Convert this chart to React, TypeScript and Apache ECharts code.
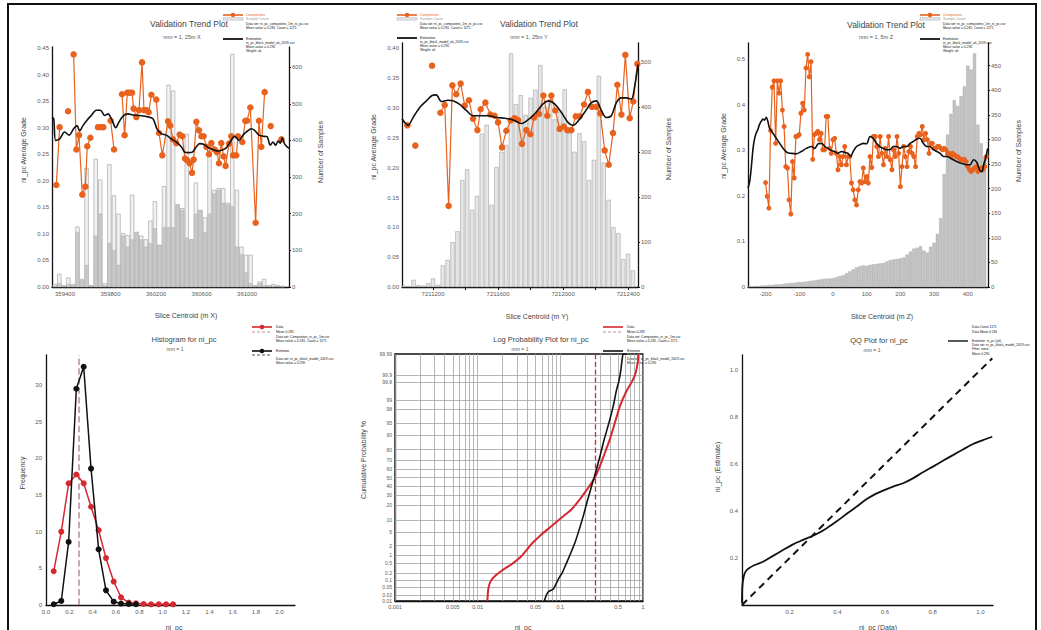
import React, { useEffect, useRef } from "react";
import * as echarts from "echarts";

const FONT = "'Liberation Sans', Arial, sans-serif";
const ORANGE = "#E8621E";
const RED = "#D62830";
const INK = "#111111";

// ---------- Panel 1 : trend along X ----------
const P1_TICKS_X = [359400, 359800, 360200, 360600, 361000];
const P1_GRADE_TICKS = [0, 0.05, 0.1, 0.15, 0.2, 0.25, 0.3, 0.35, 0.4, 0.45];
const P1_COUNT_TICKS = [0, 100, 200, 300, 400, 500, 600];
const P1_BAR_X = [359310, 359350, 359390, 359430, 359470, 359510, 359550, 359590, 359630, 359670, 359710, 359750, 359790, 359830, 359870, 359910, 359950, 359990, 360030, 360070, 360110, 360150, 360190, 360230, 360270, 360310, 360350, 360390, 360430, 360470, 360510, 360550, 360590, 360630, 360670, 360710, 360750, 360790, 360830, 360870, 360910, 360950, 360990, 361030, 361070, 361110, 361150, 361190, 361230, 361270, 361310];
const P1_COUNT = [8, 36, 5, 26, 8, 165, 22, 325, 5, 350, 293, 10, 335, 250, 200, 147, 142, 252, 150, 140, 130, 181, 234, 115, 275, 552, 536, 225, 215, 418, 130, 285, 210, 190, 385, 265, 270, 270, 230, 636, 265, 110, 88, 88, 5, 15, 22, 5, 8, 5, 3];
const P1_COUNT_BLOCKS = [3, 10, 2, 8, 5, 150, 18, 60, 3, 140, 200, 5, 120, 100, 60, 140, 110, 130, 150, 130, 110, 120, 160, 115, 163, 163, 163, 225, 210, 135, 130, 200, 210, 150, 200, 255, 265, 230, 225, 220, 110, 90, 40, 10, 3, 10, 5, 3, 3, 2, 1];
const P1_DATA_X = [359324, 359353, 359427, 359476, 359500, 359523, 359552, 359579, 359596, 359623, 359690, 359713, 359737, 359801, 359831, 359901, 359924, 359948, 359968, 359989, 360003, 360027, 360050, 360077, 360094, 360115, 360135, 360159, 360202, 360226, 360255, 360305, 360325, 360349, 360378, 360407, 360431, 360454, 360472, 360495, 360516, 360530, 360554, 360577, 360598, 360618, 360642, 360665, 360686, 360715, 360735, 360753, 360773, 360794, 360811, 360841, 360861, 360876, 360905, 360920, 360958, 360984, 360999, 361028, 361075, 361104, 361125, 361154, 361207, 361301];
const P1_DATA_Y = [0.192, 0.301, 0.331, 0.438, 0.259, 0.286, 0.174, 0.189, 0.265, 0.281, 0.301, 0.301, 0.301, 0.313, 0.259, 0.363, 0.286, 0.366, 0.366, 0.366, 0.336, 0.32, 0.333, 0.423, 0.333, 0.333, 0.329, 0.362, 0.353, 0.29, 0.248, 0.312, 0.304, 0.278, 0.271, 0.287, 0.284, 0.242, 0.239, 0.233, 0.215, 0.24, 0.311, 0.295, 0.284, 0.284, 0.264, 0.25, 0.271, 0.259, 0.254, 0.233, 0.271, 0.246, 0.228, 0.27, 0.284, 0.248, 0.248, 0.284, 0.273, 0.313, 0.313, 0.338, 0.121, 0.313, 0.264, 0.367, 0.303, 0.278];
const P1_DATA_BREAKS = [1, 2, 9, 12, 14, 67, 68];
const P1_EST_X = [359286, 359301, 359318, 359353, 359397, 359435, 359476, 359506, 359529, 359558, 359593, 359631, 359675, 359711, 359749, 359778, 359816, 359845, 359875, 359910, 359954, 359997, 360056, 360115, 360173, 360208, 360246, 360290, 360334, 360378, 360422, 360451, 360481, 360519, 360554, 360583, 360618, 360656, 360700, 360744, 360782, 360817, 360852, 360890, 360929, 360964, 360999, 361037, 361066, 361104, 361139, 361175, 361204, 361227, 361251, 361271, 361292, 361309, 361330, 361368];
const P1_EST_Y = [0.32, 0.317, 0.276, 0.279, 0.292, 0.286, 0.298, 0.304, 0.294, 0.304, 0.314, 0.323, 0.333, 0.333, 0.323, 0.326, 0.313, 0.30, 0.311, 0.322, 0.326, 0.324, 0.323, 0.321, 0.317, 0.298, 0.289, 0.286, 0.279, 0.273, 0.264, 0.254, 0.253, 0.254, 0.264, 0.27, 0.269, 0.263, 0.259, 0.256, 0.258, 0.262, 0.273, 0.284, 0.276, 0.286, 0.293, 0.298, 0.295, 0.286, 0.284, 0.283, 0.267, 0.273, 0.267, 0.275, 0.271, 0.281, 0.269, 0.261];

// ---------- Panel 2 : trend along Y ----------
const P2_TICKS_X = [7211200, 7211600, 7212000, 7212400];
const P2_MINOR_X = [7211200, 7211400, 7211600, 7211800, 7212000, 7212200, 7212400];
const P2_GRADE_TICKS = [0, 0.05, 0.1, 0.15, 0.2, 0.25, 0.3, 0.35, 0.4];
const P2_COUNT_TICKS = [0, 100, 200, 300, 400, 500];
const P2_BAR_X = [7211020, 7211050, 7211080, 7211110, 7211140, 7211170, 7211200, 7211230, 7211260, 7211290, 7211320, 7211350, 7211380, 7211410, 7211440, 7211470, 7211500, 7211530, 7211560, 7211590, 7211620, 7211650, 7211680, 7211710, 7211740, 7211770, 7211800, 7211830, 7211860, 7211890, 7211920, 7211950, 7211980, 7212010, 7212040, 7212070, 7212100, 7212130, 7212160, 7212190, 7212220, 7212250, 7212280, 7212310, 7212340, 7212370, 7212400, 7212430];
const P2_COUNT = [3, 2, 16, 4, 3, 8, 19, 5, 48, 60, 100, 124, 238, 262, 172, 203, 341, 361, 183, 267, 301, 316, 520, 407, 427, 383, 421, 439, 494, 401, 418, 373, 390, 440, 342, 301, 342, 324, 238, 283, 470, 277, 194, 133, 120, 62, 74, 37];
const P2_DATA_X = [7211042, 7211091, 7211194, 7211245, 7211272, 7211296, 7211319, 7211343, 7211370, 7211395, 7211421, 7211446, 7211473, 7211493, 7211522, 7211553, 7211579, 7211600, 7211624, 7211651, 7211678, 7211702, 7211723, 7211747, 7211774, 7211799, 7211821, 7211852, 7211879, 7211903, 7211928, 7211952, 7211979, 7212004, 7212026, 7212051, 7212078, 7212102, 7212129, 7212153, 7212178, 7212205, 7212229, 7212256, 7212281, 7212307, 7212334, 7212359, 7212383, 7212410, 7212432, 7212457];
const P2_DATA_Y = [0.271, 0.237, 0.371, 0.292, 0.305, 0.136, 0.338, 0.323, 0.341, 0.304, 0.313, 0.282, 0.263, 0.298, 0.309, 0.289, 0.287, 0.276, 0.234, 0.262, 0.279, 0.283, 0.28, 0.24, 0.263, 0.256, 0.284, 0.29, 0.321, 0.287, 0.321, 0.296, 0.265, 0.269, 0.263, 0.263, 0.286, 0.286, 0.306, 0.327, 0.302, 0.302, 0.291, 0.229, 0.205, 0.258, 0.339, 0.289, 0.389, 0.283, 0.311, 0.374];
const P2_DATA_BREAKS = [0, 1, 2];
const P2_EST_X = [7211009, 7211025, 7211046, 7211077, 7211118, 7211159, 7211194, 7211220, 7211251, 7211292, 7211323, 7211364, 7211405, 7211446, 7211497, 7211548, 7211589, 7211641, 7211692, 7211743, 7211774, 7211825, 7211877, 7211911, 7211948, 7211989, 7212030, 7212061, 7212092, 7212133, 7212174, 7212205, 7212235, 7212266, 7212297, 7212328, 7212359, 7212389, 7212420, 7212441, 7212461];
const P2_EST_Y = [0.282, 0.276, 0.271, 0.284, 0.301, 0.312, 0.321, 0.322, 0.311, 0.313, 0.312, 0.306, 0.296, 0.287, 0.287, 0.287, 0.284, 0.283, 0.28, 0.274, 0.278, 0.29, 0.307, 0.312, 0.307, 0.293, 0.276, 0.271, 0.278, 0.293, 0.309, 0.312, 0.296, 0.284, 0.287, 0.309, 0.317, 0.317, 0.315, 0.337, 0.373];

// ---------- Panel 3 : trend along Z ----------
const P3_TICKS_X = [-200, -100, 0, 100, 200, 300, 400];
const P3_GRADE_TICKS = [0, 0.1, 0.2, 0.3, 0.4, 0.5];
const P3_COUNT_TICKS = [0, 50, 100, 150, 200, 250, 300, 350, 400, 450];
const P3_BAR_X = [-250, -240, -230, -220, -210, -200, -190, -180, -170, -160, -150, -140, -130, -120, -110, -100, -90, -80, -70, -60, -50, -40, -30, -20, -10, 0, 10, 20, 30, 40, 50, 60, 70, 80, 90, 100, 110, 120, 130, 140, 150, 160, 170, 180, 190, 200, 210, 220, 230, 240, 250, 260, 270, 280, 290, 300, 310, 320, 330, 340, 350, 360, 370, 380, 390, 400, 410, 420, 430, 440, 450];
const P3_COUNT = [1, 1, 2, 2, 3, 3, 4, 4, 5, 5, 6, 7, 8, 8, 9, 10, 10, 11, 12, 13, 14, 15, 16, 17, 17, 18, 20, 22, 24, 28, 32, 36, 40, 42, 44, 43, 45, 46, 47, 48, 49, 52, 55, 56, 57, 58, 60, 66, 72, 78, 80, 83, 74, 70, 82, 90, 108, 140, 230, 310, 352, 380, 368, 388, 408, 450, 442, 475, 330, 292, 265];
const P3_DATA_X = [-200, -195, -190, -185, -180, -175, -170, -165, -160, -155, -150, -145, -140, -135, -130, -125, -120, -115, -110, -105, -100, -95, -90, -85, -80, -75, -70, -65, -60, -55, -50, -45, -40, -35, -30, -25, -20, -15, -10, -5, 0, 5, 10, 15, 20, 25, 30, 35, 40, 45, 50, 55, 60, 65, 70, 75, 80, 85, 90, 95, 100, 105, 110, 115, 120, 125, 130, 135, 140, 145, 150, 155, 160, 165, 170, 175, 180, 185, 190, 195, 200, 205, 210, 215, 220, 225, 230, 235, 240, 245, 250, 255, 260, 265, 270, 275, 280, 285, 290, 295, 300, 305, 310, 315, 320, 325, 330, 335, 340, 345, 350, 355, 360, 365, 370, 375, 380, 385, 390, 395, 400, 405, 410, 415, 420, 425, 430, 435, 440, 445, 450, 455];
const P3_DATA_Y = [0.229, 0.199, 0.173, 0.343, 0.438, 0.452, 0.315, 0.452, 0.425, 0.452, 0.388, 0.352, 0.264, 0.261, 0.191, 0.160, 0.275, 0.239, 0.330, 0.331, 0.334, 0.381, 0.403, 0.388, 0.480, 0.510, 0.461, 0.494, 0.280, 0.334, 0.337, 0.341, 0.323, 0.337, 0.301, 0.301, 0.374, 0.374, 0.304, 0.293, 0.323, 0.326, 0.293, 0.257, 0.286, 0.268, 0.286, 0.308, 0.268, 0.286, 0.286, 0.228, 0.213, 0.191, 0.180, 0.213, 0.231, 0.228, 0.261, 0.231, 0.242, 0.228, 0.286, 0.262, 0.330, 0.330, 0.308, 0.286, 0.330, 0.293, 0.268, 0.304, 0.286, 0.330, 0.279, 0.257, 0.301, 0.286, 0.330, 0.293, 0.220, 0.264, 0.308, 0.286, 0.264, 0.297, 0.308, 0.293, 0.286, 0.264, 0.330, 0.337, 0.334, 0.352, 0.323, 0.337, 0.323, 0.293, 0.315, 0.315, 0.304, 0.304, 0.308, 0.308, 0.304, 0.301, 0.304, 0.301, 0.293, 0.293, 0.286, 0.293, 0.290, 0.286, 0.286, 0.282, 0.279, 0.279, 0.280, 0.275, 0.264, 0.257, 0.253, 0.257, 0.261, 0.264, 0.253, 0.257, 0.261, 0.257, 0.264, 0.286];
const P3_EST_X = [-252, -247, -242, -237, -233, -228, -223, -218, -213, -208, -203, -198, -193, -188, -178, -168, -158, -148, -136, -123, -109, -94, -79, -64, -54, -44, -34, -24, -14, -4, 5, 15, 25, 35, 45, 52, 60, 70, 80, 90, 100, 110, 119, 129, 139, 149, 159, 169, 179, 189, 199, 209, 219, 229, 238, 248, 258, 268, 278, 288, 298, 308, 318, 328, 338, 348, 357, 367, 377, 387, 397, 407, 417, 427, 435, 442, 447, 454, 459];
const P3_EST_Y = [0.217, 0.231, 0.264, 0.304, 0.323, 0.337, 0.345, 0.356, 0.363, 0.368, 0.366, 0.372, 0.363, 0.348, 0.337, 0.326, 0.315, 0.304, 0.295, 0.293, 0.292, 0.297, 0.304, 0.308, 0.304, 0.314, 0.315, 0.308, 0.304, 0.299, 0.297, 0.293, 0.297, 0.295, 0.293, 0.286, 0.297, 0.308, 0.312, 0.315, 0.314, 0.330, 0.326, 0.315, 0.308, 0.304, 0.301, 0.301, 0.308, 0.308, 0.304, 0.308, 0.308, 0.315, 0.319, 0.324, 0.326, 0.315, 0.308, 0.308, 0.301, 0.297, 0.293, 0.286, 0.286, 0.283, 0.279, 0.275, 0.272, 0.270, 0.268, 0.268, 0.279, 0.273, 0.257, 0.253, 0.268, 0.286, 0.304];

// ---------- Panel 4 : histogram ----------
const P4_TICKS_X = [0, 0.2, 0.4, 0.6, 0.8, 1.0, 1.2, 1.4, 1.6, 1.8, 2.0];
const P4_TICKS_Y = [0, 5, 10, 15, 20, 25, 30];
const P4_BIN = [0.066, 0.131, 0.194, 0.26, 0.323, 0.386, 0.451, 0.514, 0.58, 0.643, 0.709, 0.771, 0.837, 0.9, 0.966, 1.029, 1.089];
const P4_DATA_FREQ = [4.6, 10.0, 16.6, 17.8, 16.6, 13.4, 10.2, 6.4, 3.2, 1.05, 0.32, 0.23, 0.14, 0.09, 0.09, 0.09, 0.09];
const P4_EST_FREQ = [0.1, 0.55, 8.6, 29.5, 32.5, 18.6, 7.6, 2.0, 0.45, 0.2, 0.15, 0.1];
const P4_DATA_MEAN = 0.28;

// ---------- Panel 5 : log probability ----------
const P5_LABEL_VALUES = [0.001, 0.005, 0.01, 0.05, 0.1, 0.5, 1];
const P5_LABEL_TEXT = ["0.001", "0.005", "0.01", "0.05", "0.1", "0.5", "1"];
const P5_LOG_GRID = [0.001, 0.002, 0.003, 0.004, 0.005, 0.006, 0.007, 0.008, 0.009, 0.01, 0.02, 0.03, 0.04, 0.05, 0.06, 0.07, 0.08, 0.09, 0.1, 0.2, 0.3, 0.4, 0.5, 0.6, 0.7, 0.8, 0.9, 1];
const P5_PROB_TICKS = [0.01, 0.02, 0.05, 0.1, 0.2, 0.5, 1, 2, 5, 10, 20, 30, 40, 50, 60, 70, 80, 90, 95, 98, 99, 99.8, 99.9, 99.99];
const P5_DATA_VAL = [0.0131, 0.01345, 0.01436, 0.0162, 0.0195, 0.0257, 0.034, 0.0451, 0.0595, 0.0786, 0.1038, 0.137, 0.173, 0.218, 0.262, 0.302, 0.347, 0.398, 0.458, 0.527, 0.634, 0.743, 0.815, 0.863, 0.878];
const P5_DATA_PCT = [0.01, 0.04, 0.09, 0.15, 0.25, 0.45, 0.9, 2.3, 4.4, 7.2, 11.4, 17, 25.7, 38, 50, 63.7, 77.4, 87.6, 95.1, 98.45, 99.55, 99.82, 99.92, 99.973, 99.99];
const P5_EST_VAL = [0.064, 0.0671, 0.0716, 0.0823, 0.0946, 0.1057, 0.1194, 0.1346, 0.1504, 0.1698, 0.1897, 0.212, 0.239, 0.267, 0.302, 0.34, 0.388, 0.437, 0.48, 0.512, 0.541, 0.561, 0.577, 0.634];
const P5_EST_PCT = [0.01, 0.018, 0.029, 0.039, 0.11, 0.21, 0.52, 1.2, 2.5, 6, 12.4, 24, 40, 56, 74.2, 87.6, 95.1, 98.45, 99.6, 99.82, 99.944, 99.983, 99.99, 99.99];
const P5_DATA_MEAN = 0.262;

// ---------- Panel 6 : QQ ----------
const P6_TICKS = [0.2, 0.4, 0.6, 0.8, 1.0];
const P6_DATA_Q = [0, 0.0014, 0.007, 0.015, 0.029, 0.053, 0.088, 0.13, 0.172, 0.214, 0.256, 0.305, 0.354, 0.396, 0.438, 0.48, 0.522, 0.557, 0.592, 0.634, 0.676, 0.717, 0.759, 0.801, 0.843, 0.885, 0.927, 0.969, 1.011, 1.05];
const P6_EST_Q = [0.007, 0.078, 0.12, 0.142, 0.156, 0.17, 0.184, 0.209, 0.234, 0.258, 0.277, 0.298, 0.326, 0.355, 0.387, 0.418, 0.45, 0.471, 0.487, 0.504, 0.518, 0.539, 0.565, 0.589, 0.614, 0.638, 0.662, 0.685, 0.702, 0.716];
const P6_REF = [0, 1.05];

// probability-paper transform (inverse normal CDF, Acklam)
function probit(p: number): number {
  const a = [-39.69683028665376, 220.9460984245205, -275.9285104469687, 138.357751867269, -30.66479806614716, 2.506628277459239];
  const b = [-54.47609879822406, 161.5858368580409, -155.6989798598866, 66.80131188771972, -13.28068155288572];
  const c = [-0.007784894002430293, -0.3223964580411365, -2.400758277161838, -2.549732539343734, 4.374664141464968, 2.938163982698783];
  const d = [0.007784695709041462, 0.3224671290700398, 2.445134137142996, 3.754408661907416];
  const plow = 0.02425;
  if (p < plow) {
    const q = Math.sqrt(-2 * Math.log(p));
    return (((((c[0] * q + c[1]) * q + c[2]) * q + c[3]) * q + c[4]) * q + c[5]) / ((((d[0] * q + d[1]) * q + d[2]) * q + d[3]) * q + 1);
  }
  if (p <= 1 - plow) {
    const q = p - 0.5;
    const r = q * q;
    return ((((((a[0] * r + a[1]) * r + a[2]) * r + a[3]) * r + a[4]) * r + a[5]) * q) / (((((b[0] * r + b[1]) * r + b[2]) * r + b[3]) * r + b[4]) * r + 1);
  }
  const q = Math.sqrt(-2 * Math.log(1 - p));
  return -(((((c[0] * q + c[1]) * q + c[2]) * q + c[3]) * q + c[4]) * q + c[5]) / ((((d[0] * q + d[1]) * q + d[2]) * q + d[3]) * q + 1);
}
const pz = (pct: number) => probit(pct / 100);

function zip(xs: number[], ys: number[], breaks: number[] = []) {
  const out: any[] = [];
  xs.forEach((x, i) => {
    out.push([x, ys[i]]);
    if (breaks.indexOf(i) >= 0 && i < xs.length - 1) out.push([(x + xs[i + 1]) / 2, "-"]);
  });
  return out;
}

const LABEL = { fontSize: 6, color: "#5a5a5a", fontFamily: FONT };

function axis(gridIndex: number, extra: any) {
  return {
    type: "value",
    gridIndex,
    axisLine: { show: true, onZero: false, lineStyle: { color: INK, width: 1.3 } },
    splitLine: { show: false },
    axisTick: { show: false },
    ...extra,
  };
}

function T(x: number, y: number, text: string, size: number, opt: any = {}) {
  return {
    type: "text",
    x,
    y,
    rotation: opt.rot || 0,
    silent: true,
    style: {
      text,
      fontSize: size,
      fontFamily: FONT,
      fill: opt.color || "#333",
      align: opt.align || "center",
      verticalAlign: "middle",
    },
  };
}

function trendLegend(x0: number, yB: number) {
  const tx = x0 + 23;
  return [
    { type: "line", silent: true, shape: { x1: x0, y1: 15, x2: x0 + 20, y2: 15 }, style: { stroke: ORANGE, lineWidth: 1.6 } },
    { type: "circle", silent: true, shape: { cx: x0 + 10, cy: 15, r: 2.3 }, style: { fill: ORANGE } },
    T(tx, 15, "Composites", 3.6, { align: "left", color: ORANGE }),
    { type: "rect", silent: true, shape: { x: x0, y: 17.6, width: 20, height: 2.6 }, style: { fill: "#e4e4e4", stroke: "#99a3ad", lineWidth: 0.4 } },
    T(tx, 19, "Sample Count", 3.6, { align: "left", color: "#999" }),
    T(tx, 24, "Data set: ni_pc_composites_1m_ni_pc.csv", 3.3, { align: "left", color: INK }),
    T(tx, 28, "Mean value = 0.281, Count = 1171", 3.3, { align: "left", color: INK }),
    { type: "line", silent: true, shape: { x1: x0, y1: yB, x2: x0 + 20, y2: yB }, style: { stroke: INK, lineWidth: 1.8 } },
    T(tx, yB, "Estimation", 3.3, { align: "left", color: INK }),
    T(tx, yB + 4, "ni_pc_block_model_ok_2019.csv", 3.3, { align: "left", color: INK }),
    T(tx, yB + 8, "Mean value = 0.290", 3.3, { align: "left", color: INK }),
    T(tx, yB + 12, "Weight: ok", 3.3, { align: "left", color: INK }),
  ];
}

function lowerLegend(x0: number, y0: number, withMarkers: boolean, withDash: boolean) {
  const tx = x0 + 24;
  const els: any[] = [
    { type: "line", silent: true, shape: { x1: x0, y1: y0, x2: x0 + 20, y2: y0 }, style: { stroke: RED, lineWidth: 1.6 } },
    T(tx, y0, "Data", 3.4, { align: "left", color: INK }),
    T(tx, y0 + 4.5, "Mean 0.281", 3.4, { align: "left", color: INK }),
    T(tx, y0 + 10, "Data set: Composites_ni_pc_1m.csv", 3.3, { align: "left", color: INK }),
    T(tx, y0 + 13.5, "Mean value = 0.281, Count = 1171", 3.3, { align: "left", color: INK }),
    { type: "line", silent: true, shape: { x1: x0, y1: y0 + 24, x2: x0 + 20, y2: y0 + 24 }, style: { stroke: INK, lineWidth: 1.6 } },
    T(tx, y0 + 23.5, "Estimate", 3.4, { align: "left", color: INK }),
    T(tx, y0 + 32, "Data set: ni_pc_block_model_2019.csv", 3.3, { align: "left", color: INK }),
    T(tx, y0 + 36, "Mean value = 0.290", 3.3, { align: "left", color: INK }),
  ];
  if (withDash) {
    els.push({ type: "line", silent: true, shape: { x1: x0, y1: y0 + 5, x2: x0 + 20, y2: y0 + 5 }, style: { stroke: "#c98c92", lineWidth: 1, lineDash: [3, 2] } });
  }
  if (withMarkers) {
    els.push({ type: "circle", silent: true, shape: { cx: x0 + 10, cy: y0, r: 2.3 }, style: { fill: RED } });
    els.push({ type: "circle", silent: true, shape: { cx: x0 + 10, cy: y0 + 24, r: 2.3 }, style: { fill: INK } });
    els.push({ type: "line", silent: true, shape: { x1: x0, y1: y0 + 28, x2: x0 + 20, y2: y0 + 28 }, style: { stroke: "#555", lineWidth: 1, lineDash: [3, 2] } });
  }
  return els;
}

function buildOption(): any {
  const p5LabelFmt = (v: number) => {
    let best = 0;
    P5_LABEL_VALUES.forEach((t, i) => {
      if (Math.abs(Math.log10(t) - v) < Math.abs(Math.log10(P5_LABEL_VALUES[best]) - v)) best = i;
    });
    return P5_LABEL_TEXT[best];
  };
  const p5ProbFmt = (v: number) => {
    let best = 0;
    P5_PROB_TICKS.forEach((t, i) => {
      if (Math.abs(pz(t) - v) < Math.abs(pz(P5_PROB_TICKS[best]) - v)) best = i;
    });
    return String(P5_PROB_TICKS[best]);
  };

  const graphics: any[] = [
    { type: "rect", silent: true, shape: { x: 8, y: 4, width: 1028, height: 700 }, style: { fill: "none", stroke: INK, lineWidth: 2 } },
    // titles
    T(189, 24, "Validation Trend Plot", 8.5, { color: "#444" }),
    T(182, 37, "nnn = 1, 25m X", 5.5, { color: "#555" }),
    T(539, 24, "Validation Trend Plot", 8.5, { color: "#444" }),
    T(529, 37, "nnn = 1, 25m Y", 5.5, { color: "#555" }),
    T(886, 25, "Validation Trend Plot", 8.5, { color: "#444" }),
    T(876, 37, "nnn = 1, 5m Z", 5.5, { color: "#555" }),
    T(184, 339, "Histogram for ni_pc", 7.5, { color: "#444" }),
    T(175, 349, "nnn = 1", 5, { color: "#555" }),
    T(541, 339, "Log Probability Plot for ni_pc", 7.5, { color: "#444" }),
    T(520, 349, "nnn = 1", 5, { color: "#555" }),
    T(879, 340, "QQ Plot for ni_pc", 7.5, { color: "#444" }),
    T(872, 350, "nnn = 1", 5, { color: "#555" }),
    // axis names
    T(23, 150, "ni_pc Average Grade", 7, { rot: Math.PI / 2, color: "#444" }),
    T(320, 152, "Number of Samples", 7, { rot: Math.PI / 2, color: "#444" }),
    T(373, 147, "ni_pc Average Grade", 7, { rot: Math.PI / 2, color: "#444" }),
    T(668, 149, "Number of Samples", 7, { rot: Math.PI / 2, color: "#444" }),
    T(723, 146, "ni_pc Average Grade", 7, { rot: Math.PI / 2, color: "#444" }),
    T(1018, 151, "Number of Samples", 7, { rot: Math.PI / 2, color: "#444" }),
    T(186, 315, "Slice Centroid (m X)", 7, { color: "#444" }),
    T(537, 316, "Slice Centroid (m Y)", 7, { color: "#444" }),
    T(882, 316, "Slice Centroid (m Z)", 7, { color: "#444" }),
    T(22, 473, "Frequency", 7, { rot: Math.PI / 2, color: "#444" }),
    T(363, 460, "Cumulative Probability %", 7, { rot: Math.PI / 2, color: "#444" }),
    T(717, 467, "ni_pc (Estimate)", 7, { rot: Math.PI / 2, color: "#444" }),
    T(174, 627, "ni_pc", 7, { color: "#444" }),
    T(523, 627, "ni_pc", 7, { color: "#444" }),
    T(878, 627, "ni_pc (Data)", 7, { color: "#444" }),
    ...trendLegend(223, 39),
    ...trendLegend(397, 38),
    ...trendLegend(920, 39),
    ...lowerLegend(252, 327, true, true),
    ...lowerLegend(603, 327, false, true),
    T(972, 327, "Data Count 1171", 3.3, { align: "left", color: INK }),
    T(972, 332, "Data Mean 0.281", 3.3, { align: "left", color: INK }),
    { type: "line", silent: true, shape: { x1: 948, y1: 341, x2: 968, y2: 341 }, style: { stroke: INK, lineWidth: 1.4 } },
    T(972, 341, "Estimate: ni_pc (ok)", 3.3, { align: "left", color: INK }),
    T(972, 345, "Data set: ni_pc_block_model_2019.csv", 3.3, { align: "left", color: INK }),
    T(972, 349, "Filter: none", 3.3, { align: "left", color: INK }),
    T(972, 353.5, "Mean 0.290", 3.3, { align: "left", color: INK }),
  ];

  const orangeLine = (xi: number, yi: number, data: any[], size: number) => ({
    type: "line",
    xAxisIndex: xi,
    yAxisIndex: yi,
    data,
    symbol: "circle",
    symbolSize: size,
    showSymbol: true,
    showAllSymbol: true,
    connectNulls: false,
    lineStyle: { color: ORANGE, width: 1.2 },
    itemStyle: { color: ORANGE },
    z: 3,
  });
  const blackLine = (xi: number, yi: number, data: any[]) => ({
    type: "line",
    xAxisIndex: xi,
    yAxisIndex: yi,
    data,
    showSymbol: false,
    smooth: 0.3,
    lineStyle: { color: INK, width: 1.6 },
    z: 4,
  });

  return {
    animation: false,
    backgroundColor: "#ffffff",
    textStyle: { fontFamily: FONT },
    grid: [
      { left: 52, top: 47, width: 237, height: 240 },
      { left: 402, top: 43, width: 236, height: 244 },
      { left: 748, top: 43, width: 240, height: 244 },
      { left: 46, top: 355, width: 249, height: 250 },
      { left: 395, top: 354, width: 248, height: 247, show: true, borderColor: INK, borderWidth: 1.3, backgroundColor: "transparent" },
      { left: 742, top: 355, width: 251, height: 250 },
    ],
    xAxis: [
      axis(0, { min: 359286, max: 361368, axisLabel: { ...LABEL, margin: 4, customValues: P1_TICKS_X, formatter: (v: number) => String(v) } }),
      axis(1, {
        min: 7211009,
        max: 7212461,
        axisTick: { show: true, length: 3, customValues: P2_MINOR_X, lineStyle: { color: INK, width: 1 } },
        axisLabel: { ...LABEL, margin: 4, customValues: P2_TICKS_X, formatter: (v: number) => String(v) },
      }),
      axis(2, { min: -252, max: 460, axisLabel: { ...LABEL, margin: 4, customValues: P3_TICKS_X, formatter: (v: number) => String(v) } }),
      axis(3, { min: 0, max: 2.134, axisLabel: { ...LABEL, margin: 4, customValues: P4_TICKS_X, formatter: (v: number) => v.toFixed(1) } }),
      axis(4, { min: -3, max: 0, axisLabel: { ...LABEL, fontSize: 5.5, margin: 3, customValues: P5_LABEL_VALUES.map((v) => Math.log10(v)), formatter: p5LabelFmt } }),
      axis(5, { min: 0, max: 1.053, axisLabel: { ...LABEL, margin: 4, customValues: P6_TICKS, formatter: (v: number) => v.toFixed(1) } }),
    ],
    yAxis: [
      axis(0, { position: "left", min: 0, max: 0.452, axisLabel: { ...LABEL, margin: 3, customValues: P1_GRADE_TICKS, formatter: (v: number) => v.toFixed(2) } }),
      axis(0, { position: "right", min: 0, max: 655, axisTick: { show: true, length: 2, customValues: P1_COUNT_TICKS }, axisLabel: { ...LABEL, margin: 3, customValues: P1_COUNT_TICKS, formatter: (v: number) => String(v) } }),
      axis(1, { position: "left", min: 0, max: 0.409, axisLabel: { ...LABEL, margin: 3, customValues: P2_GRADE_TICKS, formatter: (v: number) => v.toFixed(2) } }),
      axis(1, { position: "right", min: 0, max: 543, axisTick: { show: true, length: 2, customValues: P2_COUNT_TICKS }, axisLabel: { ...LABEL, margin: 3, customValues: P2_COUNT_TICKS, formatter: (v: number) => String(v) } }),
      axis(2, { position: "left", min: 0, max: 0.535, axisLabel: { ...LABEL, margin: 3, customValues: P3_GRADE_TICKS, formatter: (v: number) => (v === 0 ? "0" : v.toFixed(1)) } }),
      axis(2, { position: "right", min: 0, max: 496, axisTick: { show: true, length: 2, customValues: P3_COUNT_TICKS }, axisLabel: { ...LABEL, margin: 3, customValues: P3_COUNT_TICKS, formatter: (v: number) => String(v) } }),
      axis(3, { position: "left", min: 0, max: 34.1, axisLabel: { ...LABEL, margin: 4, customValues: P4_TICKS_Y, formatter: (v: number) => String(v) } }),
      axis(4, { position: "left", min: pz(0.01), max: pz(99.99), axisLabel: { ...LABEL, fontSize: 5, margin: 3, customValues: P5_PROB_TICKS.map(pz), formatter: p5ProbFmt } }),
      axis(5, { position: "left", min: 0, max: 1.064, axisLabel: { ...LABEL, margin: 4, customValues: P6_TICKS, formatter: (v: number) => v.toFixed(1) } }),
    ],
    graphic: graphics,
    series: [
      // panel 1
      { type: "bar", xAxisIndex: 0, yAxisIndex: 1, data: zip(P1_BAR_X, P1_COUNT), barWidth: "92%", barGap: "-100%", itemStyle: { color: "#f2f2f2", borderColor: "#9c9c9c", borderWidth: 0.6 }, z: 1 },
      { type: "bar", xAxisIndex: 0, yAxisIndex: 1, data: zip(P1_BAR_X, P1_COUNT_BLOCKS), barWidth: "92%", barGap: "-100%", itemStyle: { color: "#c8c8c8", borderColor: "#b0b0b0", borderWidth: 0.5 }, z: 1 },
      orangeLine(0, 0, zip(P1_DATA_X, P1_DATA_Y, P1_DATA_BREAKS), 6.5),
      blackLine(0, 0, zip(P1_EST_X, P1_EST_Y)),
      // panel 2
      { type: "bar", xAxisIndex: 1, yAxisIndex: 3, data: zip(P2_BAR_X, P2_COUNT), barWidth: "88%", itemStyle: { color: "#e6e6e6", borderColor: "#a4a4a4", borderWidth: 0.6 }, z: 1 },
      orangeLine(1, 2, zip(P2_DATA_X, P2_DATA_Y, P2_DATA_BREAKS), 6.5),
      blackLine(1, 2, zip(P2_EST_X, P2_EST_Y)),
      // panel 3
      { type: "bar", xAxisIndex: 2, yAxisIndex: 5, data: zip(P3_BAR_X, P3_COUNT), barWidth: "96%", itemStyle: { color: "#c2c2c2", borderColor: "#a9a9a9", borderWidth: 0.4 }, z: 1 },
      orangeLine(2, 4, zip(P3_DATA_X, P3_DATA_Y), 5),
      blackLine(2, 4, zip(P3_EST_X, P3_EST_Y)),
      // panel 4
      {
        type: "line", xAxisIndex: 3, yAxisIndex: 6, data: zip(P4_BIN, P4_DATA_FREQ), symbol: "circle", symbolSize: 6, showAllSymbol: true,
        lineStyle: { color: RED, width: 1.5 }, itemStyle: { color: RED }, z: 3,
        markLine: { silent: true, symbol: ["none", "none"], label: { show: false }, lineStyle: { color: "#b8959c", type: "dashed", width: 1.6 }, data: [{ xAxis: P4_DATA_MEAN }], z: 1 },
      },
      {
        type: "line", xAxisIndex: 3, yAxisIndex: 6, data: zip(P4_BIN.slice(0, P4_EST_FREQ.length), P4_EST_FREQ), symbol: "circle", symbolSize: 6, showAllSymbol: true,
        lineStyle: { color: INK, width: 1.5 }, itemStyle: { color: INK }, z: 4,
      },
      // panel 5
      {
        type: "line", xAxisIndex: 4, yAxisIndex: 7, data: P5_DATA_VAL.map((v, i) => [Math.log10(v), pz(P5_DATA_PCT[i])]), showSymbol: false, smooth: 0.2,
        lineStyle: { color: RED, width: 2 }, z: 3,
        markLine: {
          silent: true, symbol: ["none", "none"], label: { show: false }, z: 1,
          lineStyle: { color: "#a3a3a3", width: 0.8, type: "solid" },
          data: [...P5_LOG_GRID.map((v) => ({ xAxis: Math.log10(v) })), ...P5_PROB_TICKS.map((p) => ({ yAxis: pz(p) }))],
        },
      },
      {
        type: "line", xAxisIndex: 4, yAxisIndex: 7, data: P5_EST_VAL.map((v, i) => [Math.log10(v), pz(P5_EST_PCT[i])]), showSymbol: false, smooth: 0.2,
        lineStyle: { color: INK, width: 1.6 }, z: 4,
        markLine: { silent: true, symbol: ["none", "none"], label: { show: false }, z: 2, lineStyle: { color: RED, width: 1.3, type: "dashed" }, data: [{ xAxis: Math.log10(P5_DATA_MEAN) }] },
      },
      // panel 6
      { type: "line", xAxisIndex: 5, yAxisIndex: 8, data: zip(P6_REF, P6_REF), showSymbol: false, lineStyle: { color: INK, width: 2, type: [7, 5] }, z: 3 },
      { type: "line", xAxisIndex: 5, yAxisIndex: 8, data: zip(P6_DATA_Q, P6_EST_Q), showSymbol: false, smooth: 0.3, lineStyle: { color: INK, width: 1.8 }, z: 4 },
    ],
  };
}

export default function App() {
  const ref = useRef<HTMLDivElement>(null);
  useEffect(() => {
    document.body.style.margin = "0";
    const chart = echarts.init(ref.current as HTMLDivElement, null, { renderer: "svg" });
    chart.setOption(buildOption());
    return () => chart.dispose();
  }, []);
  return <div ref={ref} style={{ width: 1041, height: 630, background: "#fff" }} />;
}
